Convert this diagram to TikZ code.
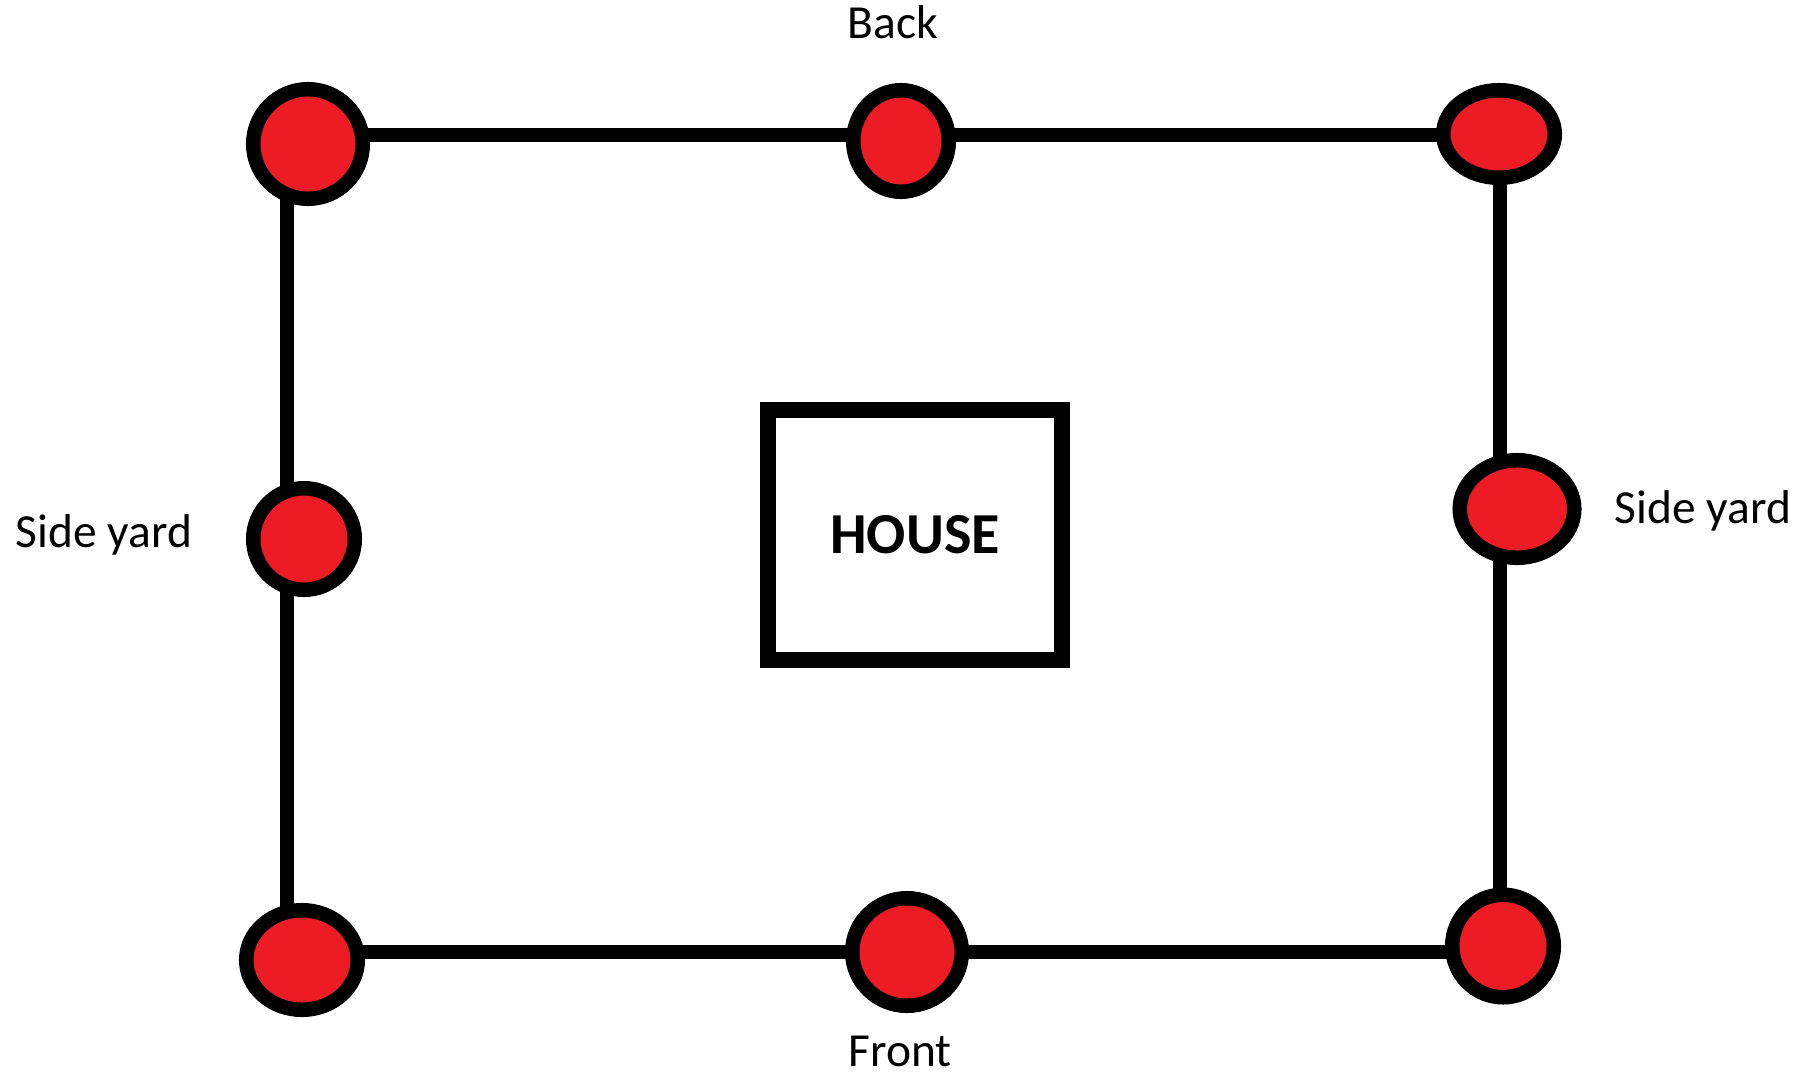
\documentclass[tikz,border=0pt]{standalone}
\usepackage{fontspec}
\setmainfont{Carlito}
\usetikzlibrary{shapes.geometric}
\definecolor{postRed}{RGB}{237,28,36}
\tikzset{
  fence/.style={line width=0.14cm, draw=black},
  post/.style={ellipse, draw=black, fill=postRed, line width=0.145cm, inner sep=0pt},
  house/.style={draw=black, fill=white, line width=0.16cm, inner sep=0pt,
                font=\fontsize{16.5}{19}\selectfont\bfseries},
  yardlabel/.style={anchor=base, inner sep=0pt, font=\fontsize{13.5}{16}\selectfont}
}

\begin{document}
\begin{tikzpicture}[x=0.01cm, y=-0.01cm]
\useasboundingbox (0,0) rectangle (1816,1076);
% yard boundary
\coordinate (nw) at (287,135);
\coordinate (ne) at (1500,135);
\coordinate (se) at (1500,952);
\coordinate (sw) at (287,952);
\draw[fence] (nw) -- (ne) -- (se) -- (sw) -- cycle;
\node[house, minimum width=2.94cm, minimum height=2.5cm] (house) at (915,535) {HOUSE};
% posts
\node[post, minimum width=1.095cm, minimum height=1.095cm] (postNW) at (308,144) {};
\node[post, minimum width=0.955cm, minimum height=1.015cm] (postN) at (901,141) {};
\node[post, minimum width=1.115cm, minimum height=0.875cm] (postNE) at (1499,134) {};
\node[post, minimum width=1.015cm, minimum height=1.015cm] (postW) at (304,539) {};
\node[post, minimum width=1.145cm, minimum height=0.975cm] (postE) at (1517,509) {};
\node[post, minimum width=1.115cm, minimum height=0.995cm] (postSW) at (302,960) {};
\node[post, minimum width=1.095cm, minimum height=1.075cm] (postS) at (907,952) {};
\node[post, minimum width=1.015cm, minimum height=1.025cm] (postSE) at (1503,946) {};
% labels
\node[yardlabel] (back) at (893,39) {Back};
\node[yardlabel] (front) at (900,1066) {Front};
\node[yardlabel] (sideW) at (104,547) {Side yard};
\node[yardlabel] (sideE) at (1703,523) {Side yard};
\end{tikzpicture}
\end{document}
